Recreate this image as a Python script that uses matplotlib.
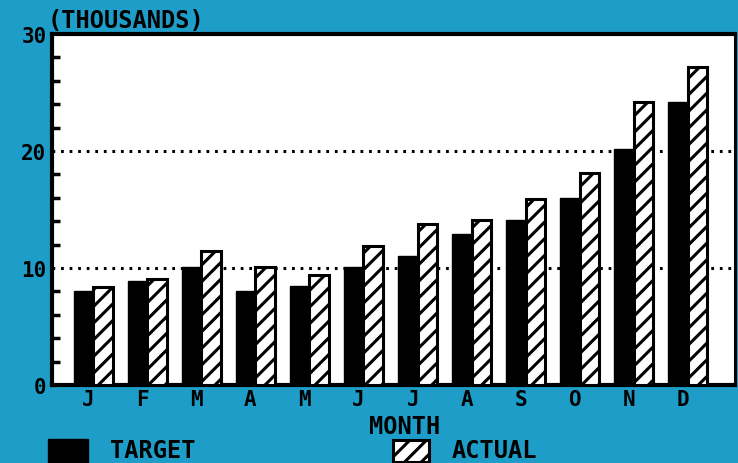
import matplotlib
matplotlib.use("Agg")
import matplotlib.pyplot as plt
import numpy as np
from matplotlib.patches import Rectangle
from matplotlib.ticker import MultipleLocator

months = ["J", "F", "M", "A", "M", "J", "J", "A", "S", "O", "N", "D"]
target = [8.0, 8.9, 10.1, 8.05, 8.45, 10.1, 11.0, 12.9, 14.1, 16.0, 20.2, 24.2]
actual = [8.4, 9.1, 11.45, 10.1, 9.4, 11.9, 13.8, 14.1, 15.9, 18.1, 24.2, 27.2]
y_ticks = [0, 10, 20, 30]

BG = "#1d9dc8"
FONT = "DejaVu Sans Mono"
plt.rcParams["hatch.linewidth"] = 2.2
plt.rcParams["hatch.color"] = "black"

fig = plt.figure(figsize=(7.38, 4.64), dpi=100, facecolor=BG)
ax = fig.add_axes([52 / 738, 78 / 464, 683 / 738, 351 / 464])
ax.set_facecolor("white")

x = np.arange(len(months))
w = 0.36
ax.bar(x - w / 2, target, width=w, color="black", edgecolor="black", linewidth=1, zorder=3)
ax.bar(x + w / 2, actual, width=w, color="white", edgecolor="black", linewidth=2.2,
       hatch="//", zorder=3)

ax.set_xlim(-0.76, 11.87)
ax.set_ylim(0, 30)

for yv in [10, 20]:
    ax.axhline(yv, color="black", linewidth=2.2, linestyle=(0, (0.9, 1.9)), zorder=1)

ax.set_yticks(y_ticks)
ax.set_yticklabels([str(v) for v in y_ticks], fontfamily=FONT, fontweight="bold", fontsize=15)
ax.yaxis.set_minor_locator(MultipleLocator(2))
ax.tick_params(axis="y", which="major", length=0, pad=4)
ax.tick_params(axis="y", which="minor", direction="in", length=6, width=2.5, color="black")

ax.set_xticks(x - 0.09)
ax.set_xticklabels(months, fontfamily=FONT, fontweight="bold", fontsize=15)
ax.tick_params(axis="x", which="both", length=0, pad=3)

for s in ax.spines.values():
    s.set_linewidth(3)
    s.set_color("black")
ax.spines["right"].set_linewidth(2.2)

# y-axis units label and x-axis title
fig.text(48 / 738, 1 - 21 / 464, "(THOUSANDS)", fontfamily=FONT, fontweight="bold",
         fontsize=17, ha="left", va="center")
fig.text(405 / 738, 1 - 427 / 464, "MONTH", fontfamily=FONT, fontweight="bold",
         fontsize=17, ha="center", va="center")

# legend drawn at bottom
fig.patches.append(Rectangle((48 / 738, 0), 40 / 738, 24 / 464, transform=fig.transFigure,
                             facecolor="black", edgecolor="black", linewidth=1))
fig.text(110 / 738, 1 / 464, "TARGET", fontfamily=FONT, fontweight="bold",
         fontsize=17, ha="left", va="bottom")
fig.patches.append(Rectangle((393 / 738, 0.002), 36 / 738, 22 / 464, transform=fig.transFigure,
                             facecolor="white", edgecolor="black", linewidth=2.2, hatch="//"))
fig.text(452 / 738, 1 / 464, "ACTUAL", fontfamily=FONT, fontweight="bold",
         fontsize=17, ha="left", va="bottom")

fig.savefig("out.png", dpi=100, facecolor=BG)
